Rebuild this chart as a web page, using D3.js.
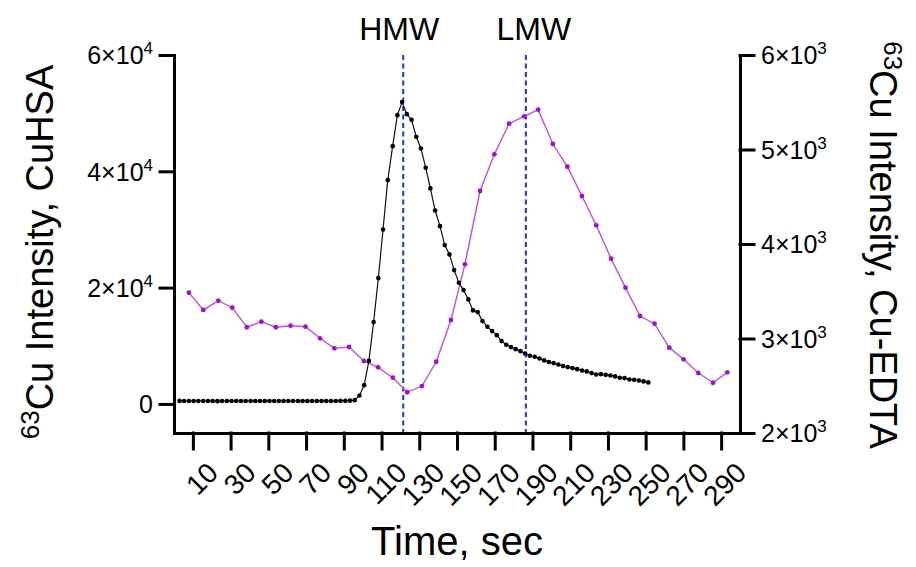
<!DOCTYPE html>
<html>
<head>
<meta charset="utf-8">
<script src="https://cdn.jsdelivr.net/npm/d3@7"></script>
<style>
  body { margin: 0; background: #fff; }
  text { font-family: "Liberation Sans", Arial, sans-serif; fill: #000; }
</style>
</head>
<body>
<svg id="chart" width="916" height="567"></svg>
<script>
// CuHSA trace (left axis)
const timeHSA = [2.9, 5.4, 7.9, 10.4, 12.9, 15.5, 18.0, 20.5, 23.0, 25.5,
  28.0, 30.5, 33.0, 35.5, 38.0, 40.6, 43.1, 45.6, 48.1, 50.6,
  53.1, 55.6, 58.1, 60.6, 63.1, 65.7, 68.2, 70.7, 73.2, 75.7,
  78.2, 80.7, 83.2, 85.7, 88.2, 90.8, 93.3, 95.8, 98.3, 100.8,
  103.3, 105.8, 108.3, 110.8, 113.3, 115.9, 118.4, 120.9, 123.4, 125.9,
  128.4, 130.9, 133.4, 135.9, 138.4, 141.0, 143.5, 146.0, 148.5, 151.0,
  153.5, 156.0, 158.5, 161.0, 163.5, 166.1, 168.6, 171.1, 173.6, 176.1,
  178.6, 181.1, 183.6, 186.1, 188.6, 191.2, 193.7, 196.2, 198.7, 201.2,
  203.7, 206.2, 208.7, 211.2, 213.7, 216.3, 218.8, 221.3, 223.8, 226.3,
  228.8, 231.3, 233.8, 236.3, 238.8, 241.4, 243.9, 246.4, 248.9, 251.4]
const cuHSA = [520, 510, 500, 505, 500, 495, 500, 490, 480, 500,
  505, 500, 510, 500, 500, 505, 500, 500, 510, 500,
  505, 500, 510, 505, 500, 510, 515, 510, 505, 510,
  500, 505, 510, 515, 520, 530, 560, 650, 1460, 3230,
  7400, 14070, 21640, 30000, 38480, 44330, 49660, 51900, 49830, 48870,
  45950, 43930, 40620, 37060, 33270, 30570, 27310, 25710, 23010, 20840,
  19570, 17970, 16080, 15790, 14240, 13280, 12520, 11830, 10800, 10180,
  9770, 9420, 9080, 8680, 8290, 8120, 7820, 7480, 7190, 7020,
  6790, 6500, 6330, 6160, 5980, 5760, 5590, 5300, 5050, 5120,
  5000, 4900, 4730, 4500, 4440, 4210, 4160, 4040, 3870, 3700]

// Cu-EDTA trace (right axis)
const timeEDTA = [7.9, 15.5, 23.5, 30.9, 38.6, 46.3, 54.0, 61.8, 69.7, 77.4,
  85.0, 92.8, 100.6, 108.2, 116.0, 123.6, 131.4, 139.0, 146.8, 154.2,
  162.2, 169.8, 177.6, 185.6, 193.0, 200.8, 208.5, 216.2, 223.8, 231.7,
  239.3, 247.0, 254.7, 262.5, 270.1, 277.9, 285.7, 293.3]
const cuEDTA = [3485, 3302, 3400, 3326, 3119, 3178, 3119, 3135, 3125, 3002,
  2896, 2910, 2762, 2695, 2585, 2431, 2497, 2754, 3196, 3785,
  4561, 4949, 5273, 5351, 5421, 5058, 4818, 4508, 4198, 3844,
  3538, 3238, 3157, 2903, 2780, 2635, 2532, 2642]

const xTicks = [10, 30, 50, 70, 90, 110, 130, 150, 170, 190, 210, 230, 250, 270, 290]
const leftTicks = [0, 20000, 40000, 60000]
const rightTicks = [2000, 3000, 4000, 5000, 6000]
const markerNames = ['HMW', 'LMW']
const markerTimes = [121.5, 186.5]

const svg = d3.select('#chart')

const x = d3.scaleLinear().domain([0, 300]).range([174, 740])
const yL = d3.scaleLinear().domain([-5000, 60000]).range([433, 55])
const yR = d3.scaleLinear().domain([2000, 6000]).range([433, 55])

// label like 4×10<sup>4</sup>
function sciLabel(sel, v) {
  sel.text(null)
  if (v === 0) { sel.text('0'); return }
  const e = Math.floor(Math.log10(v))
  const m = Math.round(v / Math.pow(10, e))
  sel.append('tspan').text(m + '×10')
  sel.append('tspan').attr('dy', -10).attr('font-size', 17).text(e)
}

// dashed marker lines
svg.append('g').selectAll('line')
  .data(markerTimes)
  .join('line')
  .attr('x1', d => x(d)).attr('x2', d => x(d))
  .attr('y1', 55).attr('y2', 433)
  .attr('stroke', '#1f2bff')
  .attr('stroke-width', 2)
  .attr('stroke-dasharray', '5,3.5')

const labelShift = [-4, 8]
svg.append('g').selectAll('text')
  .data(markerNames)
  .join('text')
  .attr('x', (d, i) => x(markerTimes[i]) + labelShift[i])
  .attr('y', 40)
  .attr('text-anchor', 'middle')
  .attr('font-size', 32)
  .text(d => d)

// Cu-EDTA line + dots
const edta = timeEDTA.map((t, i) => [t, cuEDTA[i]])
svg.append('path')
  .datum(edta)
  .attr('fill', 'none')
  .attr('stroke', '#c04cf5')
  .attr('stroke-width', 1.4)
  .attr('d', d3.line().x(d => x(d[0])).y(d => yR(d[1])))
svg.append('g').selectAll('circle')
  .data(edta)
  .join('circle')
  .attr('cx', d => x(d[0])).attr('cy', d => yR(d[1]))
  .attr('r', 2.4)
  .attr('fill', '#9d10d8')

// CuHSA line + dots
const hsa = timeHSA.map((t, i) => [t, cuHSA[i]])
svg.append('path')
  .datum(hsa)
  .attr('fill', 'none')
  .attr('stroke', '#111')
  .attr('stroke-width', 1.2)
  .attr('d', d3.line().x(d => x(d[0])).y(d => yL(d[1])))
svg.append('g').selectAll('circle')
  .data(hsa)
  .join('circle')
  .attr('cx', d => x(d[0])).attr('cy', d => yL(d[1]))
  .attr('r', 2.3)
  .attr('fill', '#000')

// axes
const gx = svg.append('g')
  .attr('transform', 'translate(0,433)')
  .call(d3.axisBottom(x).tickValues(xTicks).tickSize(16).tickSizeOuter(0).tickFormat(d3.format('d')))
gx.selectAll('.tick text')
  .attr('font-size', 28)
  .attr('text-anchor', 'end')
  .attr('dy', 0)
  .attr('transform', 'translate(13,28) rotate(-45)')

const gl = svg.append('g')
  .attr('transform', `translate(${x(0)},0)`)
  .call(d3.axisLeft(yL).tickValues(leftTicks).tickSize(14).tickSizeOuter(0).tickPadding(7))
gl.selectAll('.tick text').attr('font-size', 25).attr('dy', '0.35em').each(function (d) { sciLabel(d3.select(this), d) })

const gr = svg.append('g')
  .attr('transform', `translate(${x(300)},0)`)
  .call(d3.axisRight(yR).tickValues(rightTicks).tickSize(14).tickSizeOuter(0).tickPadding(7))
gr.selectAll('.tick text').attr('font-size', 25).attr('dy', '0.35em').each(function (d) { sciLabel(d3.select(this), d) })

svg.selectAll('.domain, .tick line')
  .attr('stroke', '#000')
  .attr('stroke-width', 3)
  .attr('stroke-linecap', 'square')
svg.selectAll('.tick text').attr('fill', '#000').attr('font-family', '"Liberation Sans", Arial, sans-serif')

// axis titles
svg.append('text')
  .attr('x', 457).attr('y', 555)
  .attr('text-anchor', 'middle')
  .attr('font-size', 40)
  .text('Time, sec')

function titleWithSup(g, main) {
  g.append('tspan').attr('font-size', 26).attr('dy', -14).text('63')
  g.append('tspan').attr('dy', 14).text(main)
}

const tl = svg.append('text')
  .attr('transform', 'translate(53,252) rotate(-90)')
  .attr('text-anchor', 'middle')
  .attr('font-size', 38)
titleWithSup(tl, 'Cu Intensity, CuHSA')

const tr = svg.append('text')
  .attr('transform', 'translate(870,245) rotate(90)')
  .attr('text-anchor', 'middle')
  .attr('font-size', 38)
titleWithSup(tr, 'Cu Intensity, Cu-EDTA')
</script>
</body>
</html>
